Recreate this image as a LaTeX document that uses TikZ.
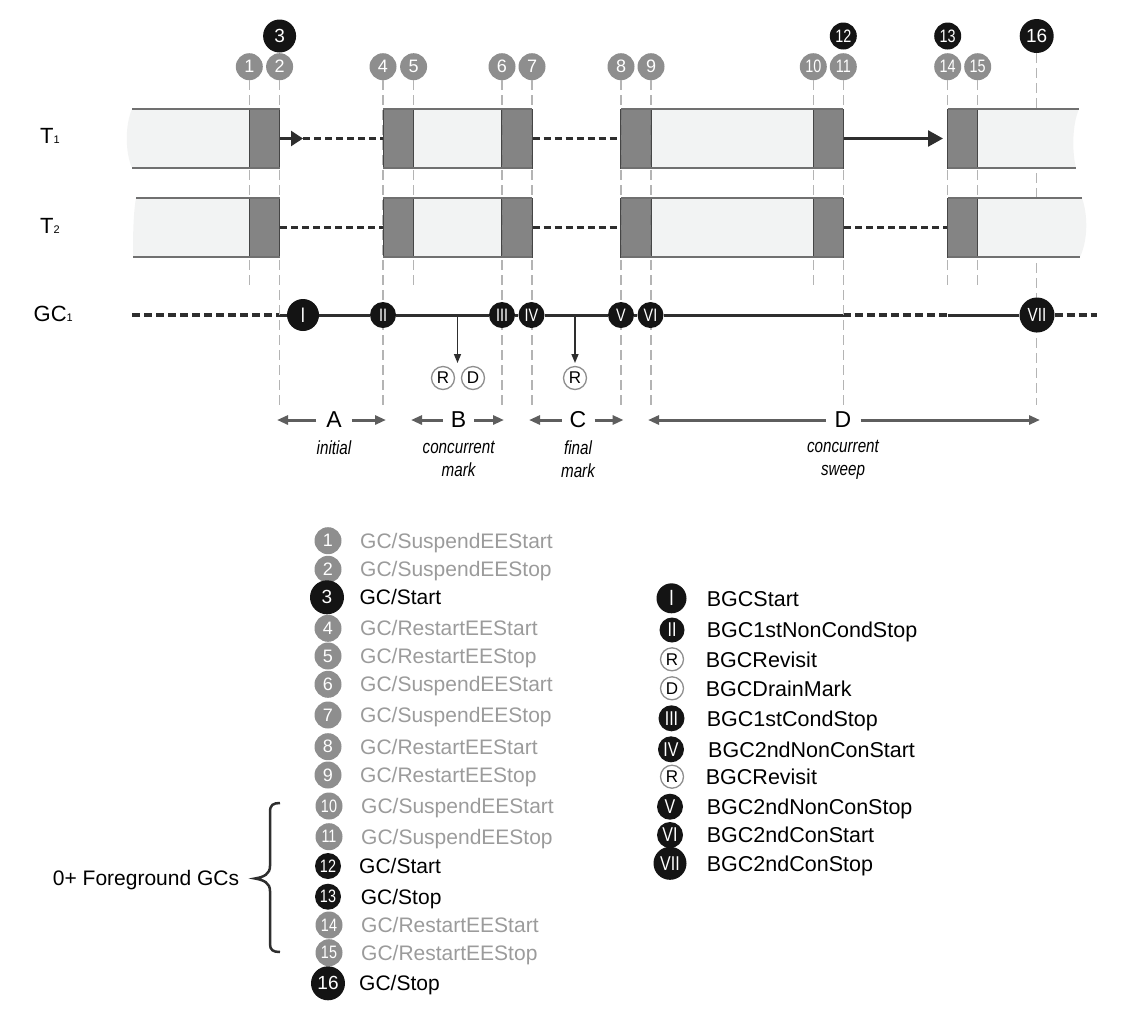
\documentclass[tikz,border=0pt]{standalone}
\usepackage{fontspec}
\setmainfont{Liberation Sans}
\newfontfamily\condfont[FakeStretch=0.8]{Liberation Sans}
\usetikzlibrary{arrows.meta}
\newcommand\fsz[1]{\fontsize{#1}{#1}\selectfont}
\definecolor{numgray}{HTML}{8E8E8E}
\definecolor{txtgray}{HTML}{9B9B9B}
\definecolor{guidegray}{HTML}{B4B4B4}
\definecolor{barfill}{HTML}{F2F3F3}
\definecolor{barrulecol}{HTML}{707070}
\definecolor{boxfill}{HTML}{6F6F6F}
\definecolor{boxline}{HTML}{454545}
\definecolor{darkline}{HTML}{2E2E2E}
\definecolor{phasegray}{HTML}{5E5E5E}
\definecolor{nodeblack}{HTML}{141414}
\pgfdeclarelayer{bg}
\pgfsetlayers{bg,main}
\tikzset{
 gnum/.style={circle, fill=numgray, text=white, inner sep=0pt, minimum size=27pt, font=\fsz{18}},
 gnumc/.style={gnum, font=\condfont\fsz{18}},
 bnum/.style={circle, fill=nodeblack, text=white, inner sep=0pt, minimum size=27pt, font=\condfont\fsz{18}},
 bnumbig/.style={bnum, minimum size=33pt, font=\fsz{19}},
 rnum/.style={circle, fill=nodeblack, text=white, inner sep=0pt, minimum size=26pt, font=\condfont\fsz{18}},
 rnumbig/.style={rnum, minimum size=34pt, font=\condfont\fsz{19}},
 opencirc/.style={circle, draw=numgray, line width=1.3pt, fill=white, inner sep=0pt, minimum size=23pt, font=\fsz{17}},
 vguide/.style={draw=guidegray, line width=1.5pt, dash pattern=on 10pt off 5pt},
 darkbox/.style={rectangle, fill=boxfill, fill opacity=0.85, draw=boxline, line width=1pt, minimum width=30.4pt, minimum height=59pt, inner sep=0pt},
 gapdash/.style={draw=darkline, line width=3pt, dash pattern=on 7pt off 4pt},
 gapsolid/.style={draw=darkline, line width=2.5pt},
 gcdash/.style={draw=darkline, line width=3.5pt, dash pattern=on 8pt off 4pt},
 gcsolid/.style={draw=darkline, line width=3pt},
 barrule/.style={draw=barrulecol, line width=2pt},
 phase/.style={draw=phasegray, line width=3pt, -{Triangle[length=11pt,width=9pt]}},
 phaselbl/.style={font=\fsz{23}, inner xsep=8pt, inner ysep=2pt},
 sublbl/.style={font=\condfont\itshape\fontsize{19}{23}\selectfont, align=center, inner sep=0pt},
 legtxt/.style={anchor=base west, font=\fsz{21}, inner sep=0pt},
 legtxtr/.style={anchor=base west, font=\fsz{21.5}, inner sep=0pt},
 rowlbl/.style={anchor=base west, font=\fsz{22}, inner sep=0pt},
 downarrow/.style={draw=darkline, line width=1.5pt, -{Triangle[length=9pt,width=7pt]}},
 bracepath/.style={draw=darkline, line width=2.5pt},
}
\begin{document}
\begin{tikzpicture}[x=1pt,y=-1pt]
\useasboundingbox (0,0) rectangle (1122,1013);

% ---- row labels
\node[rowlbl] (lblt1) at (40,143.7) {T{\fsz{11}1}};
\node[rowlbl] (lblt2) at (40,233) {T{\fsz{11}2}};
\node[rowlbl] (lblgc) at (33.5,321) {GC{\fsz{11}1}};

% ---- top markers
\node[gnum] (m1) at (249.3,66.7) {1};
\node[gnum] (m2) at (279.6,66.7) {2};
\node[gnum] (m4) at (383,66.7) {4};
\node[gnum] (m5) at (413.6,66.7) {5};
\node[gnum] (m6) at (502,66.7) {6};
\node[gnum] (m7) at (532,66.7) {7};
\node[gnum] (m8) at (621,66.7) {8};
\node[gnum] (m9) at (651,66.7) {9};
\node[gnumc] (m10) at (813.3,66.7) {10};
\node[gnumc] (m11) at (843.3,66.7) {11};
\node[gnumc] (m14) at (947.7,66.7) {14};
\node[gnumc] (m15) at (977.7,66.7) {15};
\node[bnumbig] (m3) at (279.6,36) {3};
\node[bnum] (m12) at (843.3,36) {12};
\node[bnum] (m13) at (947.7,36) {13};
\node[bnumbig, minimum size=34pt] (m16) at (1036.7,36) {16};

% ---- guide ends
\coordinate (e1) at (249.3,287);
\coordinate (e2) at (279.6,405);
\coordinate (e4) at (383,405);
\coordinate (e5) at (413.6,287);
\coordinate (e6) at (502,405);
\coordinate (e7) at (532,405);
\coordinate (e8) at (621,405);
\coordinate (e9) at (651,405);
\coordinate (e10) at (813.3,287);
\coordinate (e11) at (843.3,405);
\coordinate (e14) at (947.7,287);
\coordinate (e15) at (977.7,287);
\coordinate (e16) at (1036.7,405);
\foreach \k in {1,2,4,5,6,7,8,9,10,11,14,15,16}
  \draw[vguide] (m\k) -- (e\k);

% ---- light bar fills
\fill[barfill] (132,109) .. controls (125,125) and (125,152) .. (132,168) -- (249.3,168) -- (249.3,109) -- cycle;
\fill[barfill] (413.6,109) rectangle (502,168);
\fill[barfill] (651,109) rectangle (813.3,168);
\fill[barfill] (977.7,109) -- (1079,109) .. controls (1072,125) and (1072,152) .. (1076,168) -- (977.7,168) -- cycle;
\fill[barfill] (136,198) .. controls (133,215) and (133,240) .. (133,257) -- (249.3,257) -- (249.3,198) -- cycle;
\fill[barfill] (413.6,198) rectangle (502,257);
\fill[barfill] (651,198) rectangle (813.3,257);
\fill[barfill] (977.7,198) -- (1082,198) .. controls (1088,215) and (1088,240) .. (1080,257) -- (977.7,257) -- cycle;

% ---- dark boxes
\foreach \r/\y in {1/138.5,2/227.5}{
  \node[darkbox] (t\r b1) at (264.5,\y) {};
  \node[darkbox] (t\r b2) at (398.3,\y) {};
  \node[darkbox] (t\r b3) at (517,\y) {};
  \node[darkbox] (t\r b4) at (636,\y) {};
  \node[darkbox] (t\r b5) at (828.3,\y) {};
  \node[darkbox] (t\r b6) at (962.7,\y) {};
}

% ---- bar rules
\draw[barrule] (132,109) -- (279.6,109) (132,168) -- (279.6,168);
\draw[barrule] (383,109) -- (532,109) (383,168) -- (532,168);
\draw[barrule] (621,109) -- (843.3,109) (621,168) -- (843.3,168);
\draw[barrule] (947.7,109) -- (1079,109) (947.7,168) -- (1076,168);
\draw[barrule] (136,198) -- (279.6,198) (133,257) -- (279.6,257);
\draw[barrule] (383,198) -- (532,198) (383,257) -- (532,257);
\draw[barrule] (621,198) -- (843.3,198) (621,257) -- (843.3,257);
\draw[barrule] (947.7,198) -- (1082,198) (947.7,257) -- (1080,257);

% ---- gap connectors
\coordinate (t1a) at (303,138.5);
\draw[gapsolid, -{Triangle[length=12pt,width=15pt]}] (t1b1.east) -- (t1a);
\draw[gapdash] (t1a) -- (t1b2.west);
\draw[gapdash] (t1b3.east) -- (t1b4.west);
\draw[gapsolid, -{Triangle[length=15pt,width=16pt]}] (t1b5.east) -- ([xshift=-4pt]t1b6.west);
\draw[gapdash] (t2b1.east) -- (t2b2.west);
\draw[gapdash] (t2b3.east) -- (t2b4.west);
\draw[gapdash] (t2b5.east) -- (t2b6.west);

% ---- GC line
\node[rnumbig, minimum size=32pt, font=\condfont\fsz{21}] (r1) at (303,315) {I};
\node[rnum] (r2) at (383,315) {II};
\node[rnum] (r3) at (502,315) {III};
\node[rnum] (r4) at (531.5,315) {IV};
\node[rnum] (r5) at (621,315) {V};
\node[rnum] (r6) at (650.5,315) {VI};
\node[rnumbig, minimum size=35pt] (r7) at (1037,315) {VII};
\coordinate (gcL) at (132,315);
\coordinate (gc2) at (280,315);
\coordinate (gc11) at (843.3,315);
\coordinate (gc14) at (947.7,315);
\coordinate (gcR) at (1097,315);
\begin{pgfonlayer}{bg}
\draw[gcdash] (gcL) -- (gc2);
\draw[gcsolid] (gc2) -- (r1) -- (r2) -- (r3) -- (r4) -- (r5) -- (r6) -- (gc11);
\draw[gcdash] (gc11) -- (gc14);
\draw[gcsolid] (gc14) -- (r7);
\draw[gcdash] (r7) -- (gcR);
\end{pgfonlayer}

% ---- revisit / drain
\node[opencirc] (rv1) at (443,378) {R};
\node[opencirc] (dm1) at (473,378) {D};
\node[opencirc] (rv2) at (575,378) {R};
\coordinate (dsa) at (457.5,316);
\coordinate (dta) at (457.5,363);
\coordinate (dsb) at (575,316);
\coordinate (dtb) at (575,363);
\draw[downarrow] (dsa) -- (dta);
\draw[downarrow] (dsb) -- (dtb);

% ---- phases
\node[phaselbl, inner xsep=10pt] (pa) at (334,420) {A};
\node[phaselbl] (pb) at (458.6,420) {B};
\node[phaselbl] (pc) at (578,420) {C};
\node[phaselbl, inner xsep=9pt] (pd) at (843,420) {D};
\coordinate (pal) at (277,420); \coordinate (par) at (386,420);
\coordinate (pbl) at (411,420); \coordinate (pbr) at (504,420);
\coordinate (pcl) at (529,420); \coordinate (pcr) at (623.6,420);
\coordinate (pdl) at (648,420); \coordinate (pdr) at (1040,420);
\draw[phase] (pa.west) -- (pal);
\draw[phase] (pa.east) -- (par);
\draw[phase] (pb.west) -- (pbl);
\draw[phase] (pb.east) -- (pbr);
\draw[phase] (pc.west) -- (pcl);
\draw[phase] (pc.east) -- (pcr);
\draw[phase] (pd.west) -- (pdl);
\draw[phase] (pd.east) -- (pdr);
\node[sublbl] (sa) at (334,448) {initial};
\node[sublbl] (sb) at (458.6,459) {concurrent\\mark};
\node[sublbl] (sc) at (578,459) {final\\mark};
\node[sublbl] (sd) at (843,460) {concurrent\\sweep};

% ---- left legend
\foreach \k/\y/\t in {1/540.7/GC\slash SuspendEEStart, 2/569.3/GC\slash SuspendEEStop,
  4/628.3/GC\slash RestartEEStart, 5/656/GC\slash RestartEEStop,
  6/684.3/GC\slash SuspendEEStart, 7/715/GC\slash SuspendEEStop,
  8/746.7/GC\slash RestartEEStart, 9/775/GC\slash RestartEEStop}{
  \node[gnum] (lg\k) at (328,\y) {\k};
  \node[legtxt, text=txtgray] (lt\k) at (360,\y+7.5) {\t};
}
\foreach \k/\y/\t in {10/806/GC\slash SuspendEEStart, 11/836.7/GC\slash SuspendEEStop,
  14/925/GC\slash RestartEEStart, 15/952.7/GC\slash RestartEEStop}{
  \node[gnumc] (lg\k) at (329,\y) {\k};
  \node[legtxt, text=txtgray] (lt\k) at (361,\y+7.5) {\t};
}
\node[bnumbig, minimum size=34pt] (lg3) at (327,597.3) {3};
\node[legtxt] (lt3) at (359.3,604.8) {GC/Start};
\node[bnum, minimum size=26pt] (lg12) at (328,866) {12};
\node[legtxt] (lt12) at (359,873.5) {GC/Start};
\node[bnum, minimum size=26pt] (lg13) at (328,896.7) {13};
\node[legtxt] (lt13) at (360.7,904.2) {GC/Stop};
\node[bnumbig, minimum size=34pt] (lg16) at (328,983.3) {16};
\node[legtxt] (lt16) at (359,990.8) {GC/Stop};

% ---- brace
\node[anchor=base east, font=\fsz{21}, inner sep=0pt] (fg) at (239.3,885.5) {0+ Foreground GCs};
\draw[bracepath] (280,803) .. controls (273,803) and (270,805) .. (270,812) -- (270,866)
  .. controls (270,874) and (264,877) .. (255,878.5)
  .. controls (264,880) and (270,883) .. (270,891) -- (270,944)
  .. controls (270,950) and (273,952) .. (280,952);

% ---- right legend
\node[rnum, minimum size=30pt, font=\condfont\fsz{22}] (k1) at (671.5,598.3) {I};
\node[rnum, minimum size=25pt, font=\condfont\fsz{20}] (k2) at (672,630) {II};
\node[opencirc] (k3) at (672,659.3) {R};
\node[opencirc] (k4) at (672,688.3) {D};
\node[rnum, font=\condfont\fsz{20}] (k5) at (671.5,718.3) {III};
\node[rnum, font=\condfont\fsz{20}] (k6) at (671,749.3) {IV};
\node[opencirc] (k7) at (672,776.7) {R};
\node[rnum, font=\condfont\fsz{20}] (k8) at (670,806.7) {V};
\node[rnum, font=\condfont\fsz{20}] (k9) at (670,835) {VI};
\node[rnumbig, minimum size=33pt, font=\condfont\fsz{20}] (k10) at (670,863.3) {VII};
\node[legtxtr] (kt1) at (706.7,606) {BGCStart};
\node[legtxtr] (kt2) at (706.7,637.7) {BGC1stNonCondStop};
\node[legtxtr] (kt3) at (705.7,667) {BGCRevisit};
\node[legtxtr] (kt4) at (705.7,696) {BGCDrainMark};
\node[legtxtr] (kt5) at (706.7,726) {BGC1stCondStop};
\node[legtxtr] (kt6) at (708,757) {BGC2ndNonConStart};
\node[legtxtr] (kt7) at (705.7,784.4) {BGCRevisit};
\node[legtxtr] (kt8) at (706.7,814.4) {BGC2ndNonConStop};
\node[legtxtr] (kt9) at (706.7,842.7) {BGC2ndConStart};
\node[legtxtr] (kt10) at (706.7,871) {BGC2ndConStop};
\end{tikzpicture}
\end{document}
